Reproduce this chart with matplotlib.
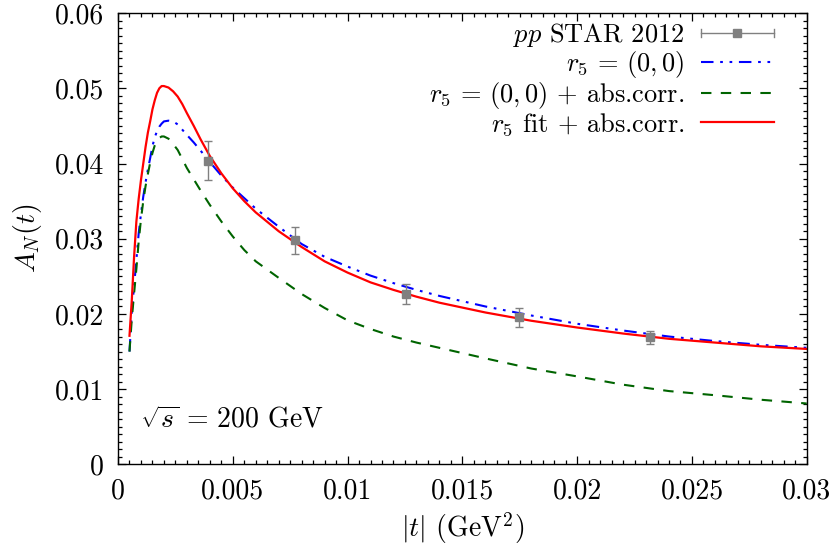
import numpy as np
import matplotlib
matplotlib.use("Agg")
import matplotlib.pyplot as plt
from matplotlib.legend_handler import HandlerBase
from matplotlib.lines import Line2D

plt.rcParams["font.family"] = "serif"
plt.rcParams["font.serif"] = ["cmr10"]
plt.rcParams["mathtext.fontset"] = "cm"
plt.rcParams["axes.unicode_minus"] = False
plt.rcParams["axes.formatter.use_mathtext"] = True

# ---------------- data ----------------
t_star = [0.00390, 0.00769, 0.01255, 0.01748, 0.02319]
an_star = [0.04035, 0.02980, 0.02262, 0.01956, 0.01690]
an_star_err = [0.00260, 0.00180, 0.00135, 0.00125, 0.00090]

t_curve = [0.0005, 0.0006, 0.0007, 0.0008, 0.0009, 0.0010, 0.0011, 0.0012,
           0.0013, 0.0014, 0.0015, 0.0016, 0.0017, 0.0018, 0.0019, 0.0020,
           0.0022, 0.0024, 0.0026, 0.0028, 0.0030, 0.0033, 0.0036, 0.0040,
           0.0045, 0.0050, 0.0055, 0.0060, 0.0070, 0.0080, 0.0090, 0.0100,
           0.0110, 0.0120, 0.0130, 0.0140, 0.0160, 0.0180, 0.0200, 0.0220,
           0.0240, 0.0260, 0.0280, 0.0300]

an_r5_zero = [0.0150, 0.0203, 0.0237, 0.0272, 0.0307, 0.0333, 0.0356, 0.0375,
              0.0392, 0.0407, 0.0423, 0.0435, 0.0443, 0.0449, 0.0453, 0.0456,
              0.0457, 0.0456, 0.0452, 0.0445, 0.0438, 0.0428, 0.0417, 0.0402,
              0.0384, 0.0368, 0.0354, 0.0340, 0.0316, 0.0293, 0.0276, 0.0263,
              0.0251, 0.0241, 0.0232, 0.0224, 0.0210, 0.0198, 0.0187, 0.0178,
              0.0170, 0.0164, 0.0159, 0.0155]

an_r5_zero_abs = [0.0150, 0.0193, 0.0227, 0.0260, 0.0296, 0.0326, 0.0350, 0.0370,
                  0.0386, 0.0401, 0.0414, 0.0424, 0.0431, 0.0434, 0.0436, 0.0436,
                  0.0433, 0.0426, 0.0418, 0.0406, 0.0394, 0.0379, 0.0364, 0.0345,
                  0.0323, 0.0303, 0.0285, 0.0270, 0.0248, 0.02265, 0.0208, 0.01915,
                  0.0180, 0.0170, 0.0162, 0.0155, 0.0141, 0.01275, 0.0117, 0.0106,
                  0.00975, 0.0092, 0.0086, 0.0081]

an_r5_fit_abs = [0.0171, 0.0218, 0.0276, 0.0323, 0.0353, 0.0378, 0.0400, 0.0422,
                 0.0441, 0.0456, 0.0472, 0.0484, 0.0494, 0.0500, 0.0503, 0.0503,
                 0.0501, 0.0496, 0.0489, 0.0479, 0.0467, 0.0450, 0.0432, 0.0410,
                 0.0387, 0.0367, 0.0350, 0.0335, 0.0310, 0.0289, 0.0270, 0.0255,
                 0.0242, 0.0232, 0.0223, 0.0215, 0.0202, 0.0191, 0.0182, 0.0174,
                 0.0167, 0.0162, 0.0157, 0.01535]

labels = [r"$pp$ STAR 2012", r"$r_5\,=\,(0,0)$",
          r"$r_5\,=\,(0,0)$ $+$ abs.corr.", r"$r_5$ fit $+$ abs.corr."]

x_ticks = [0, 0.005, 0.01, 0.015, 0.02, 0.025, 0.03]
x_ticklabels = ["0", "0.005", "0.01", "0.015", "0.02", "0.025", "0.03"]
y_ticks = [0, 0.01, 0.02, 0.03, 0.04, 0.05, 0.06]
y_ticklabels = ["0", "0.01", "0.02", "0.03", "0.04", "0.05", "0.06"]

# ---------------- style ----------------
FS = 20
LFS = 19
GRAY = "#808080"


class HandlerHErr(HandlerBase):
    def create_artists(self, legend, orig_handle, xdescent, ydescent,
                       width, height, fontsize, trans):
        y = (height - ydescent) / 2.0
        x0 = -xdescent
        x1 = width - xdescent
        c = 3.2
        base = Line2D([x0, x1], [y, y], color=GRAY, lw=1.0, transform=trans)
        cap0 = Line2D([x0, x0], [y - c, y + c], color=GRAY, lw=1.0, transform=trans)
        cap1 = Line2D([x1, x1], [y - c, y + c], color=GRAY, lw=1.0, transform=trans)
        mk = Line2D([(x0 + x1) / 2], [y], marker="s", ms=6.3, color=GRAY,
                    ls="none", transform=trans)
        return [base, cap0, cap1, mk]


fig = plt.figure(figsize=(8.34, 5.50), dpi=100)
ax = fig.add_axes([0.1415, 0.1556, 0.8258, 0.8206])

ax.errorbar(t_star, an_star, yerr=an_star_err, fmt="s", color=GRAY, ms=6.3,
            ecolor=GRAY, elinewidth=1.0, capsize=3.2, capthick=1.0, zorder=5)
l_blue, = ax.plot(t_curve, an_r5_zero, color="#0000ff", lw=1.5,
                  dashes=(6, 3.2, 1.3, 3.2, 1.3, 3.2))
l_green, = ax.plot(t_curve, an_r5_zero_abs, color="#006400", lw=1.5,
                   dashes=(5.0, 4.5))
l_red, = ax.plot(t_curve, an_r5_fit_abs, color="#ff0000", lw=1.6)

star_handle = Line2D([], [], color=GRAY)
leg = ax.legend([star_handle, l_blue, l_green, l_red], labels,
                loc="upper right", bbox_to_anchor=(0.9525, 0.982),
                frameon=False, markerfirst=False, fontsize=LFS,
                handlelength=2.77, handletextpad=0.62, labelspacing=0.0,
                borderaxespad=0.0, borderpad=0.0,
                handler_map={star_handle: HandlerHErr()})

ax.set_xlim(0, 0.03)
ax.set_ylim(0, 0.06)
ax.set_xticks(x_ticks)
ax.set_xticklabels(x_ticklabels)
ax.set_yticks(y_ticks)
ax.set_yticklabels(y_ticklabels)
ax.xaxis.set_minor_locator(matplotlib.ticker.MultipleLocator(0.0005))
ax.yaxis.set_minor_locator(matplotlib.ticker.MultipleLocator(0.001))
ax.tick_params(which="both", direction="in", top=True, right=True,
               labelsize=FS, width=0.9)
ax.tick_params(which="major", length=6.0)
ax.tick_params(which="minor", length=3.0)
ax.tick_params(axis="x", which="major", pad=10)
ax.tick_params(axis="y", which="major", pad=10)
for s in ax.spines.values():
    s.set_linewidth(1.0)

ax.set_xlabel(r"$|t|$ (GeV$^2$)", fontsize=FS, labelpad=4)
ax.set_ylabel(r"$A_N(t)$", fontsize=FS, labelpad=8)

ax.text(0.032, 0.098, r"$\sqrt{s}\,=\,200$ GeV", transform=ax.transAxes,
        fontsize=FS, ha="left", va="center")

fig.savefig("out.png", dpi=100)
